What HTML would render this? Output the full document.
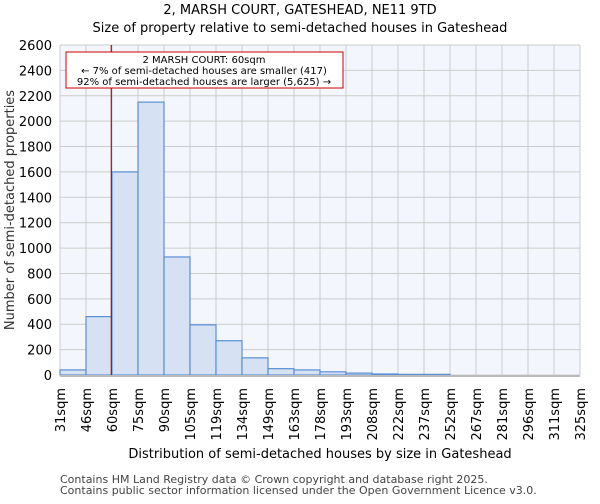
<!DOCTYPE html>
<html><head><meta charset="utf-8"><style>
body{margin:0;background:#fff;font-family:"DejaVu Sans","Liberation Sans",sans-serif}
</style></head><body>
<svg id="c" width="600" height="500" xmlns="http://www.w3.org/2000/svg" font-family="DejaVu Sans, Liberation Sans, sans-serif">
<text x="300" y="14" text-anchor="middle" font-size="13">2, MARSH COURT, GATESHEAD, NE11 9TD</text>
<text x="300" y="32" text-anchor="middle" font-size="13">Size of property relative to semi-detached houses in Gateshead</text>
<rect x="60" y="45" width="520" height="330" fill="#f3f6fd"/>
<g id="grid"></g><g id="bars"></g><g id="axes"></g>
<text transform="translate(14,210) rotate(-90)" text-anchor="middle" font-size="13" fill="#333">Number of semi-detached properties</text>
<text x="320" y="458" text-anchor="middle" font-size="13">Distribution of semi-detached houses by size in Gateshead</text>
<text x="60" y="483" font-size="11" fill="#444">Contains HM Land Registry data © Crown copyright and database right 2025.</text>
<text x="60" y="494" font-size="11" fill="#444">Contains public sector information licensed under the Open Government Licence v3.0.</text>
<g>
<rect x="66" y="52" width="277" height="36" fill="#fff" stroke="#c00" stroke-width="1"/>
<text x="204" y="63" text-anchor="middle" font-size="10">2 MARSH COURT: 60sqm</text>
<text x="204" y="74" text-anchor="middle" font-size="10">← 7% of semi-detached houses are smaller (417)</text>
<text x="204" y="85" text-anchor="middle" font-size="10">92% of semi-detached houses are larger (5,625) →</text>
</g>
</svg>
<script>
const labels=["31sqm","46sqm","60sqm","75sqm","90sqm","105sqm","119sqm","134sqm","149sqm","163sqm","178sqm","193sqm","208sqm","222sqm","237sqm","252sqm","267sqm","281sqm","296sqm","311sqm","325sqm"];
const counts=[40,460,1600,2150,930,395,270,135,50,40,25,15,8,5,5,0,0,0,0,0];
const yTicks=[0,200,400,600,800,1000,1200,1400,1600,1800,2000,2200,2400,2600];
const markerBin=2;
const NS="http://www.w3.org/2000/svg";
const x0=60,x1=580,y0=375,y1=45,yMax=2600;
const bw=(x1-x0)/counts.length;
const xs=i=>x0+i*bw, ys=v=>y0-(v/yMax)*(y0-y1);
function mk(t,a,p){const e=document.createElementNS(NS,t);for(const k in a)e.setAttribute(k,a[k]);p.appendChild(e);return e;}
const grid=document.getElementById('grid'),bars=document.getElementById('bars'),axes=document.getElementById('axes');
yTicks.forEach(v=>{const l=mk('line',{x1:x0,x2:x1,y1:ys(v),y2:ys(v),stroke:'#ccc'},grid);


const t=mk('text',{x:52,y:ys(v)+5,'text-anchor':'end','font-size':13},axes);t.textContent=v;

});
labels.forEach((s,i)=>{const l=mk('line',{x1:xs(i),x2:xs(i),y1:y1,y2:y0,stroke:'#ccc'},grid);


const t=mk('text',{transform:`translate(${xs(i)+5},388) rotate(-90)`,'text-anchor':'end','font-size':13},axes);t.textContent=s;

});
counts.forEach((v,i)=>{if(v<=0)return;const r=mk('rect',{x:xs(i),y:ys(v),width:bw,height:y0-ys(v),fill:'#d6e1f3',stroke:'#5a8fd6','stroke-width':1.2},bars);

});
const ax=mk('line',{x1:x0,x2:x1,y1:y0+1,y2:y0+1,stroke:'#bbb','stroke-width':2},axes);


const m=mk('line',{x1:xs(markerBin)-0.7,x2:xs(markerBin)-0.7,y1:y1,y2:y0,stroke:'#c00','stroke-width':1.2},axes);


</script>
</body></html>
